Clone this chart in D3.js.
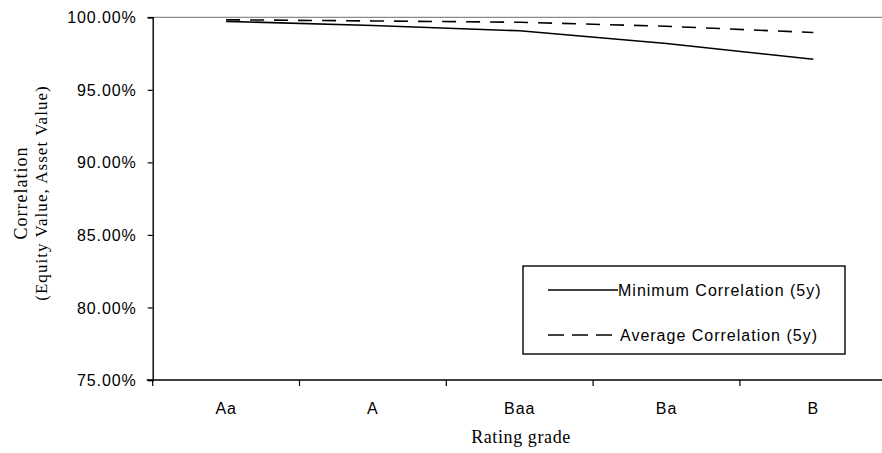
<!DOCTYPE html>
<html>
<head>
<meta charset="utf-8">
<script src="https://cdn.jsdelivr.net/npm/d3@7/dist/d3.min.js"></script>
<style>
  html, body { margin: 0; padding: 0; background: #fff; }
  svg { display: block; }
</style>
</head>
<body>
<svg id="chart" width="882" height="453"></svg>
<script>
const categories = ["Aa", "A", "Baa", "Ba", "B"];
const minimumCorrelation = [99.72, 99.43, 99.07, 98.19, 97.11];
const averageCorrelation = [99.83, 99.75, 99.66, 99.38, 98.95];
const yTicks = [75, 80, 85, 90, 95, 100];
const seriesNames = ["Minimum Correlation (5y)", "Average Correlation (5y)"];

const svg = d3.select("#chart");
const plotLeft = 152.7, plotRight = 886.7, plotTop = 17.3, plotBottom = 380;

const x = d3.scaleBand().domain(categories).range([plotLeft, plotRight]).paddingInner(0).paddingOuter(0);
const y = d3.scaleLinear().domain([75, 100]).range([plotBottom, plotTop]);

const sansFont = "Arial, 'Liberation Sans', sans-serif";
const serifFont = "'Times New Roman', 'Liberation Serif', serif";

// top border line (gray)
svg.append("line")
  .attr("x1", plotLeft - 5).attr("x2", 882)
  .attr("y1", y(100)).attr("y2", y(100))
  .attr("stroke", "#8c8c8c").attr("stroke-width", 1.3);

// Y axis
const yAxis = d3.axisLeft(y).tickValues(yTicks).tickSize(5).tickPadding(11)
  .tickFormat(d => d3.format(".2f")(d) + "%");
const gy = svg.append("g").attr("transform", `translate(${plotLeft},0)`).call(yAxis);
gy.select(".domain").attr("stroke", "#000").attr("stroke-width", 1.4);
gy.selectAll(".tick line").attr("stroke", "#000").attr("stroke-width", 1.2);
gy.selectAll(".tick text")
  .attr("font-family", sansFont).attr("font-size", 16)
  .attr("letter-spacing", "0.9px").attr("fill", "#000").attr("dy", "0.35em");

// X axis
const xAxis = d3.axisBottom(x).tickSize(0).tickPadding(0);
const gx = svg.append("g").attr("transform", `translate(0,${plotBottom})`).call(xAxis);
gx.select(".domain").remove();
gx.append("line").attr("x1", plotLeft - 6).attr("x2", 882).attr("y1", 0).attr("y2", 0)
  .attr("stroke", "#000").attr("stroke-width", 1.4);
gx.selectAll(".tick text")
  .attr("font-family", sansFont).attr("font-size", 16)
  .attr("letter-spacing", "0.9px").attr("fill", "#000")
  .attr("y", 34).attr("dy", 0);
// band boundary ticks
gx.selectAll(".bt").data(categories).enter().append("line")
  .attr("class", "bt")
  .attr("x1", d => x(d)).attr("x2", d => x(d))
  .attr("y1", 0).attr("y2", 6)
  .attr("stroke", "#000").attr("stroke-width", 1.2);

// lines
const line = d3.line()
  .x((d, i) => x(categories[i]) + x.bandwidth() / 2)
  .y(d => y(d));

svg.append("path").datum(averageCorrelation)
  .attr("d", line).attr("fill", "none")
  .attr("stroke", "#000").attr("stroke-width", 1.6)
  .attr("stroke-dasharray", "14,10");

svg.append("path").datum(minimumCorrelation)
  .attr("d", line).attr("fill", "none")
  .attr("stroke", "#000").attr("stroke-width", 1.6);

// Axis titles
svg.append("text")
  .attr("x", 521).attr("y", 443)
  .attr("text-anchor", "middle")
  .attr("font-family", serifFont).attr("font-size", 18)
  .attr("letter-spacing", "0.6px").attr("fill", "#000")
  .text("Rating grade");

const yt = svg.append("g").attr("transform", "translate(0,193) rotate(-90)");
yt.append("text").attr("x", 0).attr("y", 27)
  .attr("text-anchor", "middle")
  .attr("font-family", serifFont).attr("font-size", 18)
  .attr("letter-spacing", "1px").attr("fill", "#000")
  .text("Correlation");
yt.append("text").attr("x", 0).attr("y", 47)
  .attr("text-anchor", "middle")
  .attr("font-family", serifFont).attr("font-size", 17)
  .attr("letter-spacing", "1.05px").attr("fill", "#000")
  .text("(Equity Value, Asset Value)");

// Legend
const lg = svg.append("g");
lg.append("rect")
  .attr("x", 523).attr("y", 266).attr("width", 322).attr("height", 88)
  .attr("fill", "#fff").attr("stroke", "#000").attr("stroke-width", 1.4);
const legendRows = [
  { name: seriesNames[0], dash: null, y: 290 },
  { name: seriesNames[1], dash: "16,8", y: 335 }
];
legendRows.forEach(r => {
  lg.append("line")
    .attr("x1", 548).attr("x2", r.dash ? 612 : 618)
    .attr("y1", r.y).attr("y2", r.y)
    .attr("stroke", "#000").attr("stroke-width", 1.5)
    .attr("stroke-dasharray", r.dash);
  lg.append("text")
    .attr("x", r.dash ? 620 : 618).attr("y", r.y).attr("dy", "0.35em")
    .attr("font-family", sansFont).attr("font-size", 16)
    .attr("letter-spacing", "1px").attr("fill", "#000")
    .text(r.name);
});
</script>
</body>
</html>
